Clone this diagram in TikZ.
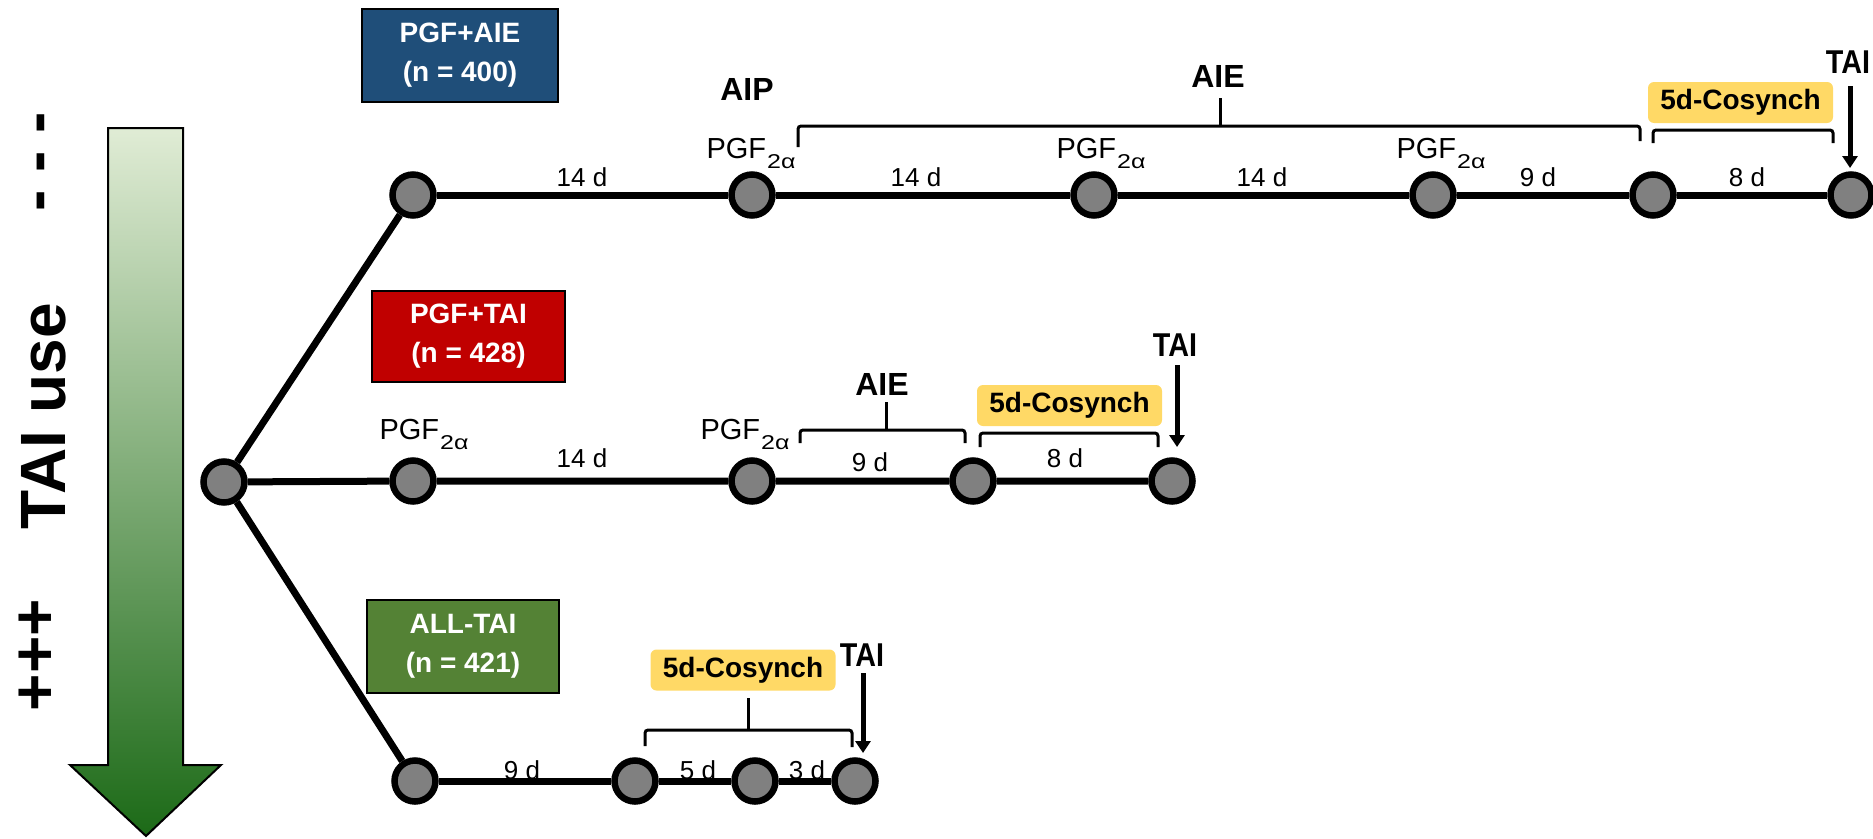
\documentclass[tikz,border=0pt]{standalone}
\usepackage{fontspec}
\usepackage{graphicx}
\setmainfont{Liberation Sans}
\usetikzlibrary{arrows.meta}
\definecolor{boxblue}{HTML}{1F4E79}
\definecolor{boxred}{HTML}{C00000}
\definecolor{boxgreen}{HTML}{548235}
\definecolor{cosyfill}{HTML}{FFD966}
\definecolor{dotgray}{HTML}{808080}
\definecolor{gtop}{HTML}{E0ECD5}
\definecolor{gmid}{HTML}{A0BE7A}
\definecolor{gbot}{HTML}{1C6A17}
\newcommand{\pgfa}{PGF\hspace{1pt}\raisebox{-10pt}{\fontsize{20}{20}\selectfont\scalebox{1.25}[1]{2α}}}
\begin{document}
\begin{tikzpicture}[x=1pt,y=-1pt,
 dot/.style={circle,draw=black,line width=6.5pt,fill=dotgray,minimum size=41pt,inner sep=0pt},
 mainline/.style={line width=7pt},
 grpbox/.style={draw=black,line width=2pt,text=white,font=\fontsize{28}{39}\selectfont\bfseries,align=center,inner sep=0pt},
 cosy/.style={fill=cosyfill,rounded corners=6pt,minimum width=185pt,minimum height=41pt,inner sep=0pt,font=\fontsize{28}{30}\selectfont\bfseries},
 dlab/.style={font=\fontsize{26}{28}\selectfont,inner sep=0pt},
 pgflab/.style={font=\fontsize{29}{30}\selectfont,anchor=base,inner sep=0pt},
 blab/.style={font=\fontsize{32}{34}\selectfont\bfseries,inner sep=0pt},
 tailab/.style={font=\fontsize{33}{35}\selectfont\bfseries,xscale=0.87,inner sep=0pt},
 brk/.style={line width=3pt,rounded corners=3pt},
 taiarr/.style={line width=5pt,-{Triangle[width=15pt,length=12pt]}},
 sidetxt/.style={font=\fontsize{64}{70}\selectfont\bfseries,rotate=90,inner sep=0pt}
]
\useasboundingbox (0,0) rectangle (1873,838);

% big gradient arrow
\shadedraw[top color=gtop, middle color=gmid, bottom color=gbot, draw=black, line width=2pt]
  (108,128) -- (183,128) -- (183,765) -- (221,765) -- (146,836) -- (70,765) -- (108,765) -- cycle;

% side texts
\node[sidetxt] (plus) at (38,655) {+++};
\node[sidetxt] (tailabel) at (44,416) {TAI use};
\node[sidetxt] (minus) at (47,162) {- - -};

% group boxes
\node[grpbox,fill=boxblue,minimum width=196pt,minimum height=93pt] (b1) at (460,55.5) {PGF+AIE\\(n = 400)};
\node[grpbox,fill=boxred,minimum width=193pt,minimum height=91pt] (b2) at (468.5,336.5) {PGF+TAI\\(n = 428)};
\node[grpbox,fill=boxgreen,minimum width=192pt,minimum height=93pt] (b3) at (463,646.5) {ALL-TAI\\(n = 421)};

% dots
\node[dot] (s) at (224,482) {};
\node[dot] (r1a) at (413,195) {};
\node[dot] (r1b) at (752,195) {};
\node[dot] (r1c) at (1094,195) {};
\node[dot] (r1d) at (1433,195) {};
\node[dot] (r1e) at (1653,195) {};
\node[dot] (r1f) at (1851,195) {};
\node[dot] (r2a) at (413,481) {};
\node[dot] (r2b) at (752,481) {};
\node[dot] (r2c) at (973,481) {};
\node[dot] (r2d) at (1172,481) {};
\node[dot] (r3a) at (415,781) {};
\node[dot] (r3b) at (635,781) {};
\node[dot] (r3c) at (755,781) {};
\node[dot] (r3d) at (855,781) {};

% lines
\draw[mainline] (s) -- (r1a);
\draw[mainline] (r1a) -- (r1b) -- (r1c) -- (r1d) -- (r1e) -- (r1f);
\draw[mainline] (s) -- (r2a) -- (r2b) -- (r2c) -- (r2d);
\draw[mainline] (s) -- (r3a);
\draw[mainline] (r3a) -- (r3b) -- (r3c) -- (r3d);

% day labels
\node[dlab] (d11) at (582,177) {14 d};
\node[dlab] (d12) at (916,177) {14 d};
\node[dlab] (d13) at (1262,177) {14 d};
\node[dlab] (d14) at (1538,177) {9 d};
\node[dlab] (d15) at (1747,177) {8 d};
\node[dlab] (d21) at (582,458) {14 d};
\node[dlab] (d22) at (870,462) {9 d};
\node[dlab] (d23) at (1065,458) {8 d};
\node[dlab] (d31) at (522,770) {9 d};
\node[dlab] (d32) at (698,770) {5 d};
\node[dlab] (d33) at (807,770) {3 d};

% PGF labels
\node[pgflab] (p11) at (751,158) {\pgfa};
\node[pgflab] (p12) at (1101,158) {\pgfa};
\node[pgflab] (p13) at (1441,158) {\pgfa};
\node[pgflab] (p21) at (424,439) {\pgfa};
\node[pgflab] (p22) at (745,439) {\pgfa};

% bold labels
\node[blab] (aip) at (747,89) {AIP};
\node[blab] (aie1) at (1218,76) {AIE};
\node[blab] (aie2) at (882,384) {AIE};

% brackets
\draw[brk] (798,147) -- (798,126) -- (1640,126) -- (1640,141);
\draw[brk] (1220,127) -- (1220,98);
\draw[brk] (1653,143) -- (1653,130) -- (1833,130) -- (1833,143);
\draw[brk] (800,443) -- (800,430) -- (965,430) -- (965,443);
\draw[brk] (886,431) -- (886,402);
\draw[brk] (980,447) -- (980,433) -- (1158,433) -- (1158,447);
\draw[brk] (645,746) -- (645,730) -- (852,730) -- (852,747);
\draw[brk] (748,731) -- (748,698);

% cosynch boxes
\node[cosy] (c1) at (1740.5,102.5) {5d-Cosynch};
\node[cosy] (c2) at (1069.5,405.5) {5d-Cosynch};
\node[cosy] (c3) at (743,670) {5d-Cosynch};

% TAI labels and arrows
\node[tailab] (t1) at (1848,62) {TAI};
\node[tailab] (t2) at (1175,345) {TAI};
\node[tailab] (t3) at (862,655) {TAI};
\coordinate (a1s) at (1850,86);
\coordinate (a1e) at (1850,168);
\coordinate (a2s) at (1177,365);
\coordinate (a2e) at (1177,447);
\coordinate (a3s) at (863,673);
\coordinate (a3e) at (863,753);
\draw[taiarr] (a1s) -- (a1e);
\draw[taiarr] (a2s) -- (a2e);
\draw[taiarr] (a3s) -- (a3e);
\end{tikzpicture}
\end{document}
